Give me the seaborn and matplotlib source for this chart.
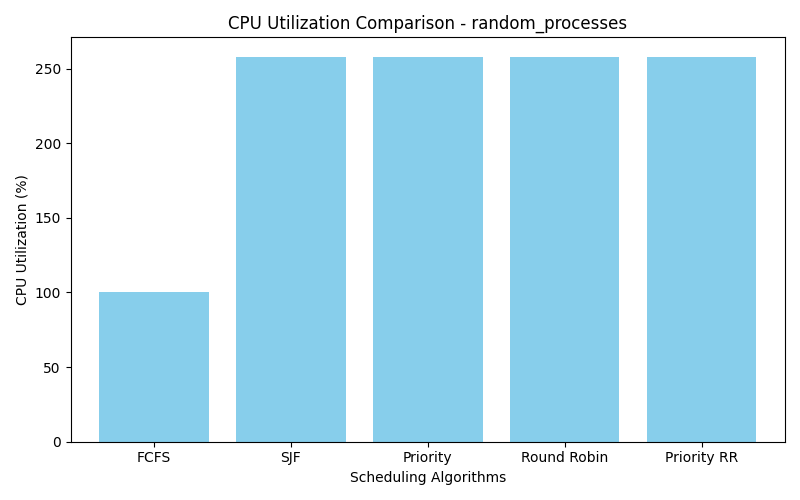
import matplotlib
matplotlib.use("Agg")
import matplotlib.pyplot as plt
import seaborn as sns

# values
algorithms = ['FCFS', 'SJF', 'Priority', 'Round Robin', 'Priority RR']
cpu_util = [100.0, 258.0, 258.0, 258.0, 258.0]

fig, ax = plt.subplots(figsize=(8, 5), dpi=100)
sns.barplot(x=algorithms, y=cpu_util, color='skyblue', saturation=1, width=0.8, ax=ax)
ax.set_xlim(-0.4 - 0.21, 4.4 + 0.21)
ax.set_title('CPU Utilization Comparison - random_processes')
ax.set_xlabel('Scheduling Algorithms')
ax.set_ylabel('CPU Utilization (%)')

plt.tight_layout()
plt.savefig('out.png')
